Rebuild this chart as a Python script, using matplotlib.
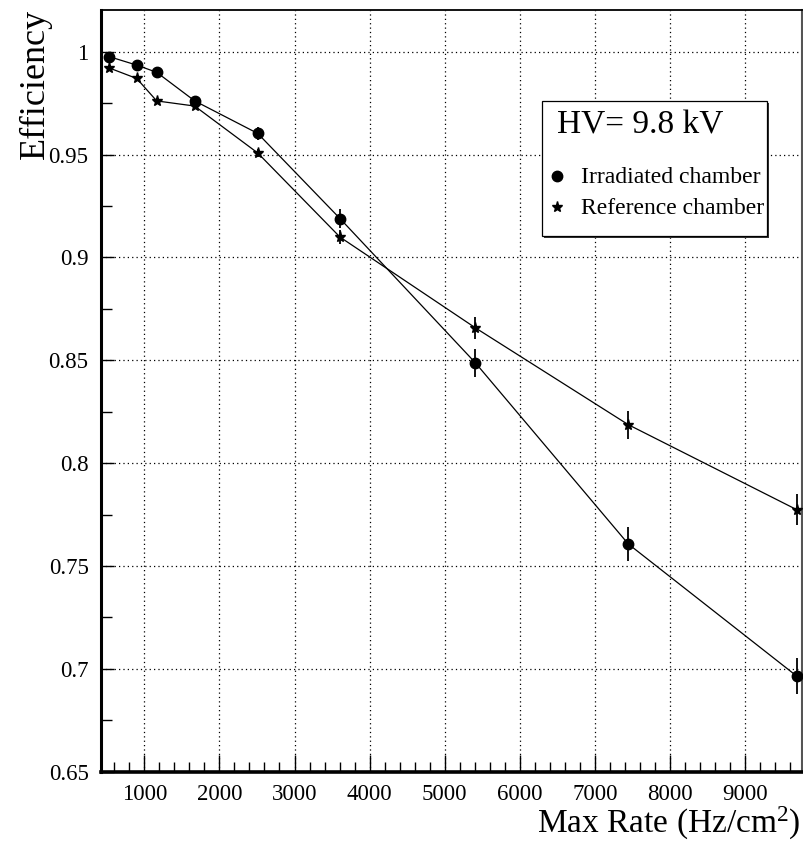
import numpy as np
import matplotlib
matplotlib.use("Agg")
import matplotlib.pyplot as plt
from matplotlib.ticker import MultipleLocator, FuncFormatter
from matplotlib.patches import Rectangle
from matplotlib.lines import Line2D

plt.rcParams['font.family'] = ['Liberation Serif', 'DejaVu Serif']
plt.rcParams['mathtext.fontset'] = 'custom'
plt.rcParams['mathtext.rm'] = 'Liberation Serif'
plt.rcParams['mathtext.it'] = 'Liberation Serif:italic'

# Max rate (Hz/cm^2), same for both chambers
max_rate = [534, 899, 1165, 1671, 2510, 3606, 5408, 7445, 9687]

# efficiency of the irradiated chamber
eff_irr = [0.9976, 0.9935, 0.9900, 0.9761, 0.9603, 0.9189, 0.8488, 0.7607, 0.6965]
err_irr = [0.0010, 0.0012, 0.0015, 0.0020, 0.0033, 0.0045, 0.0068, 0.0083, 0.0089]

# efficiency of the reference chamber
eff_ref = [0.9921, 0.9870, 0.9761, 0.9736, 0.9508, 0.9099, 0.8658, 0.8187, 0.7774]
err_ref = [0.0010, 0.0010, 0.0012, 0.0015, 0.0020, 0.0036, 0.0053, 0.0068, 0.0075]

W, H = 804, 841
fig = plt.figure(figsize=(W / 100, H / 100), dpi=100)
ax = fig.add_axes([101 / W, 1 - 771.7 / H, (802 - 101) / W, (771.7 - 10) / H])

# grid first so the legend box covers it
ax.set_axisbelow(True)
ax.grid(True, which='major', color='black', linestyle=(0, (1, 2.5)), linewidth=0.9)

ax.errorbar(max_rate, eff_irr, yerr=err_irr, fmt='-o', color='black',
            ms=7.5, lw=0.9, elinewidth=1.3, capsize=0, zorder=3)
ax.errorbar(max_rate, eff_ref, yerr=err_ref, fmt='-*', color='black',
            ms=8, lw=0.9, elinewidth=1.3, capsize=0, zorder=3)

ax.set_xlim(423, 9758)
ax.set_ylim(0.65, 1.0203)

ax.set_xticks(np.arange(1000, 9001, 1000))
ax.xaxis.set_minor_locator(MultipleLocator(200))
ax.yaxis.set_major_locator(MultipleLocator(0.05))
ax.yaxis.set_minor_locator(MultipleLocator(0.025))
ax.yaxis.set_major_formatter(FuncFormatter(lambda v, p: f"{v:g}"))

ax.tick_params(axis='both', which='both', direction='in', top=False, right=False,
               labelsize=16.5, width=1, color='black')
ax.tick_params(axis='x', which='major', length=12, pad=9)
ax.tick_params(axis='x', which='minor', length=7)
ax.tick_params(axis='y', which='major', length=9, pad=9)
ax.tick_params(axis='y', which='minor', length=8)
for lbl in ax.get_xticklabels() + ax.get_yticklabels():
    lbl.set_fontfamily('Liberation Serif')

ax.spines['left'].set_linewidth(2.2)
ax.spines['bottom'].set_linewidth(2.6)
ax.spines['top'].set_linewidth(1.3)
ax.spines['right'].set_linewidth(1.5)
ax.spines['right'].set_color('#555555')

# axis titles, ROOT style
fig.text(800 / W, 1 - 833 / H, 'Max Rate (Hz/cm$^{2}$)', ha='right',
         va='baseline', fontsize=24)
fig.text(35 / W, 1 - 9 / H, 'Efficiency', rotation=90, ha='center',
         va='top', fontsize=26)

# legend box with shadow
bx0, bx1, by0, by1 = 542, 767, 101, 236
fig.patches.append(Rectangle(((bx0 + 2) / W, 1 - (by1 + 2) / H),
                             (bx1 - bx0) / W, (by1 - by0) / H,
                             transform=fig.transFigure, facecolor='#333333',
                             edgecolor='none', zorder=5))
fig.patches.append(Rectangle((bx0 / W, 1 - by1 / H), (bx1 - bx0) / W,
                             (by1 - by0) / H, transform=fig.transFigure,
                             facecolor='white', edgecolor='black', lw=0.9,
                             zorder=6))
fig.text(557 / W, 1 - 134 / H, 'HV= 9.8 kV', ha='left', va='baseline',
         fontsize=24, zorder=7)
fig.text(581 / W, 1 - 183 / H, 'Irradiated chamber', ha='left',
         va='baseline', fontsize=17, zorder=7)
fig.text(581 / W, 1 - 214 / H, 'Reference chamber', ha='left',
         va='baseline', fontsize=17, zorder=7)
fig.lines.append(Line2D([557 / W], [1 - 176 / H], marker='o', ms=7.5,
                        color='black', transform=fig.transFigure, zorder=7))
fig.lines.append(Line2D([557 / W], [1 - 207 / H], marker='*', ms=8,
                        color='black', transform=fig.transFigure, zorder=7))

fig.savefig('out.png', dpi=100)
